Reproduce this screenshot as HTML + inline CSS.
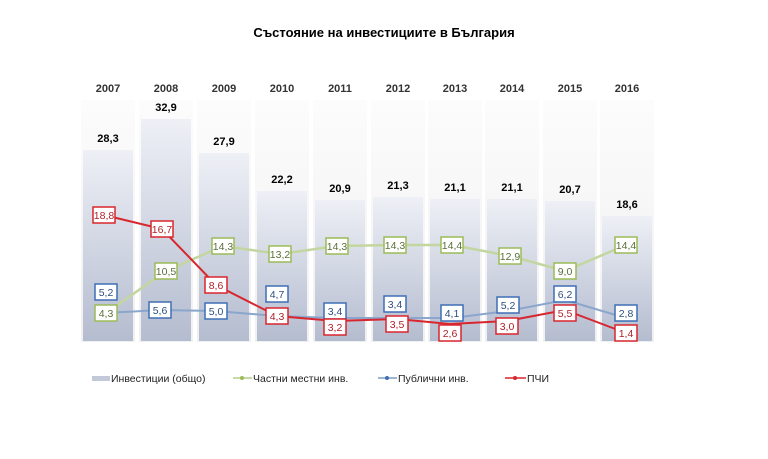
<!DOCTYPE html><html><head><meta charset="utf-8"><style>body{margin:0;background:#fff}svg{display:block}text{font-family:"Liberation Sans",sans-serif}</style></head><body>
<svg width="768" height="459" xmlns="http://www.w3.org/2000/svg">
<defs><linearGradient id="g" x1="0" y1="0" x2="0" y2="1"><stop offset="0" stop-color="#eef0f6"/><stop offset="1" stop-color="#b4bccf"/></linearGradient>
<linearGradient id="c" x1="0" y1="0" x2="0" y2="1"><stop offset="0" stop-color="#fcfcfc"/><stop offset="1" stop-color="#f0f0f0"/></linearGradient></defs>
<text x="384" y="37" text-anchor="middle" font-size="13" font-weight="bold">Състояние на инвестициите в България</text>
<g fill="url(#c)">
<rect x="81" y="100" width="54" height="242"/><rect x="139" y="100" width="54" height="242"/><rect x="197" y="100" width="54" height="242"/><rect x="255" y="100" width="54" height="242"/><rect x="313" y="100" width="54" height="242"/><rect x="371" y="100" width="54" height="242"/><rect x="428" y="100" width="54" height="242"/><rect x="485" y="100" width="54" height="242"/><rect x="543" y="100" width="54" height="242"/><rect x="600" y="100" width="54" height="242"/>
</g>
<g fill="url(#g)">
<rect x="83" y="150" width="50" height="191"/><rect x="141" y="119" width="50" height="222"/><rect x="199" y="153" width="50" height="188"/><rect x="257" y="191" width="50" height="150"/><rect x="315" y="200" width="50" height="141"/><rect x="373" y="197" width="50" height="144"/><rect x="430" y="199" width="50" height="142"/><rect x="487" y="199" width="50" height="142"/><rect x="545" y="201" width="50" height="140"/><rect x="602" y="216" width="50" height="125"/>
</g>
<g font-size="11" font-weight="bold" fill="#333" text-anchor="middle">
<text x="108" y="92">2007</text><text x="166" y="92">2008</text><text x="224" y="92">2009</text><text x="282" y="92">2010</text><text x="340" y="92">2011</text><text x="398" y="92">2012</text><text x="455" y="92">2013</text><text x="512" y="92">2014</text><text x="570" y="92">2015</text><text x="627" y="92">2016</text>
</g>
<g font-size="11" font-weight="bold" fill="#000" text-anchor="middle">
<text x="108" y="142">28,3</text><text x="166" y="111">32,9</text><text x="224" y="145">27,9</text><text x="282" y="183">22,2</text><text x="340" y="192">20,9</text><text x="398" y="189">21,3</text><text x="455" y="191">21,1</text><text x="512" y="191">21,1</text><text x="570" y="193">20,7</text><text x="627" y="208">18,6</text>
</g>
<polyline points="106,313 166,271 223,246 280,254 337,246 395,245 452,245 510,256 565,271 626,245" fill="none" stroke="#c4d6a0" stroke-width="2.5"/>
<polyline points="106,313 160,310 216,311 277,316 335,318 395,318 452,318 508,311 565,300 626,318" fill="none" stroke="#8aa6cc" stroke-width="2"/>
<polyline points="104,215 162,229 216,285 277,316 335,321 397,319 450,324 507,321 565,310 626,333" fill="none" stroke="#d8262e" stroke-width="2"/>
<g fill="#fff" stroke="#9bbb59" stroke-width="1.5">
<rect x="95" y="305" width="22" height="16"/><rect x="155" y="263" width="22" height="16"/><rect x="212" y="238" width="22" height="16"/><rect x="269" y="246" width="22" height="16"/><rect x="326" y="238" width="22" height="16"/><rect x="384" y="237" width="22" height="16"/><rect x="441" y="237" width="22" height="16"/><rect x="499" y="248" width="22" height="16"/><rect x="554" y="263" width="22" height="16"/><rect x="615" y="237" width="22" height="16"/>
</g>
<g fill="#fff" stroke="#3f6fb5" stroke-width="1.5">
<rect x="95" y="284" width="22" height="16"/><rect x="149" y="302" width="22" height="16"/><rect x="205" y="303" width="22" height="16"/><rect x="266" y="286" width="22" height="16"/><rect x="324" y="303" width="22" height="16"/><rect x="384" y="296" width="22" height="16"/><rect x="441" y="305" width="22" height="16"/><rect x="497" y="297" width="22" height="16"/><rect x="554" y="286" width="22" height="16"/><rect x="615" y="305" width="22" height="16"/>
</g>
<g fill="#fff" stroke="#d8262e" stroke-width="1.5">
<rect x="93" y="207" width="22" height="16"/><rect x="151" y="221" width="22" height="16"/><rect x="205" y="277" width="22" height="16"/><rect x="266" y="308" width="22" height="16"/><rect x="324" y="319" width="22" height="16"/><rect x="386" y="316" width="22" height="16"/><rect x="439" y="325" width="22" height="16"/><rect x="496" y="318" width="22" height="16"/><rect x="554" y="305" width="22" height="16"/><rect x="615" y="325" width="22" height="16"/>
</g>
<g font-size="10.5" text-anchor="middle" fill="#5a6e38">
<text x="106" y="317">4,3</text><text x="166" y="275">10,5</text><text x="223" y="250">14,3</text><text x="280" y="258">13,2</text><text x="337" y="250">14,3</text><text x="395" y="249">14,3</text><text x="452" y="249">14,4</text><text x="510" y="260">12,9</text><text x="565" y="275">9,0</text><text x="626" y="249">14,4</text>
</g>
<g font-size="10.5" text-anchor="middle" fill="#2d4f80">
<text x="106" y="296">5,2</text><text x="160" y="314">5,6</text><text x="216" y="315">5,0</text><text x="277" y="298">4,7</text><text x="335" y="315">3,4</text><text x="395" y="308">3,4</text><text x="452" y="317">4,1</text><text x="508" y="309">5,2</text><text x="565" y="298">6,2</text><text x="626" y="317">2,8</text>
</g>
<g font-size="10.5" text-anchor="middle" fill="#b0202a">
<text x="104" y="219">18,8</text><text x="162" y="233">16,7</text><text x="216" y="289">8,6</text><text x="277" y="320">4,3</text><text x="335" y="331">3,2</text><text x="397" y="328">3,5</text><text x="450" y="337">2,6</text><text x="507" y="330">3,0</text><text x="565" y="317">5,5</text><text x="626" y="337">1,4</text>
</g>
<rect x="92" y="376" width="18" height="5" fill="#c4c9d9"/>
<text x="111" y="382" font-size="10.5" fill="#222">Инвестиции (общо)</text>
<line x1="233" y1="378" x2="252" y2="378" stroke="#b5cc8a" stroke-width="1.5"/><circle cx="242" cy="378" r="2" fill="#9bbb59"/>
<text x="253" y="382" font-size="10.5" fill="#222">Частни местни инв.</text>
<line x1="378" y1="378" x2="397" y2="378" stroke="#7d9cc4" stroke-width="1.5"/><circle cx="387" cy="378" r="2" fill="#3f6fb5"/>
<text x="398" y="382" font-size="10.5" fill="#222">Публични инв.</text>
<line x1="505" y1="378" x2="526" y2="378" stroke="#d8262e" stroke-width="1.5"/><circle cx="515" cy="378" r="2" fill="#d8262e"/>
<text x="527" y="382" font-size="10.5" fill="#222">ПЧИ</text>
</svg></body></html>
